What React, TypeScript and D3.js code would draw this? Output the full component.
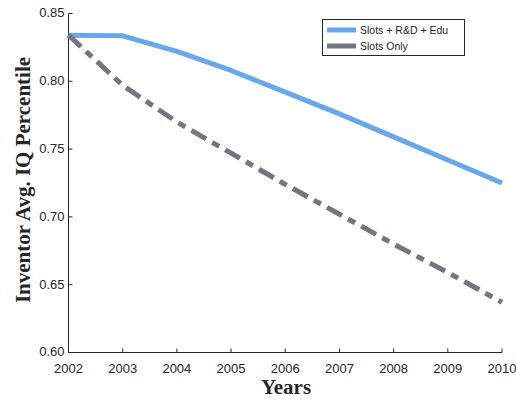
import React from "react";
import * as d3 from "d3";

const years = [2002, 2003, 2004, 2005, 2006, 2007, 2008, 2009, 2010];
const slotsRdEdu = [0.834, 0.8335, 0.822, 0.808, 0.792, 0.776, 0.759, 0.742, 0.725];
const slotsOnly = [0.834, 0.797, 0.770, 0.747, 0.724, 0.702, 0.680, 0.659, 0.637];
const yTicks = [0.6, 0.65, 0.7, 0.75, 0.8, 0.85];
const seriesNames = ["Slots + R&D + Edu", "Slots Only"];
const colors = ["#68a8ea", "#737682"];

export default function App() {
  const W = 516, H = 400;
  const x = d3.scaleLinear().domain([2002, 2010]).range([68.5, 502]);
  const y = d3.scaleLinear().domain([0.6, 0.85]).range([352.5, 13.5]);
  const line = d3.line<number>().x((_, i) => x(years[i])).y((d) => y(d));
  const tickFont = "'Liberation Sans', Arial, sans-serif";
  const serif = "'Liberation Serif', 'Times New Roman', serif";
  return (
    <svg width={W} height={H} style={{ position: "absolute", left: 0, top: 0 }}>
      <rect width={W} height={H} fill="#fff" />
      {/* axes */}
      <line x1={x(2002)} x2={x(2002)} y1={y(0.85)} y2={y(0.6)} stroke="#262626" strokeWidth={1} />
      <line x1={x(2002)} x2={x(2010)} y1={y(0.6)} y2={y(0.6)} stroke="#262626" strokeWidth={1} />
      {yTicks.map((t) => (
        <g key={t}>
          <line x1={x(2002)} x2={x(2002) + 4} y1={y(t)} y2={y(t)} stroke="#262626" />
          <text x={x(2002) - 4} y={y(t)} dy="0.3em" textAnchor="end" fontFamily={tickFont} fontSize={13} fill="#262626">
            {t.toFixed(2)}
          </text>
        </g>
      ))}
      {years.map((yr) => (
        <g key={yr}>
          <line x1={x(yr)} x2={x(yr)} y1={y(0.6)} y2={y(0.6) - 4} stroke="#262626" />
          <text x={x(yr)} y={y(0.6) + 20} textAnchor="middle" fontFamily={tickFont} fontSize={13} fill="#262626">
            {yr}
          </text>
        </g>
      ))}
      {/* lines */}
      <path d={line(slotsRdEdu) || ""} fill="none" stroke={colors[0]} strokeWidth={5} strokeLinejoin="round" />
      <path d={line(slotsOnly) || ""} fill="none" stroke={colors[1]} strokeWidth={5} strokeDasharray="17,7,8,7" />
      {/* labels */}
      <text x={286} y={394} textAnchor="middle" fontFamily={serif} fontWeight="bold" fontSize={21} fill="#262626">
        Years
      </text>
      <text transform="translate(30,180) rotate(-90)" textAnchor="middle" fontFamily={serif} fontWeight="bold" fontSize={21} fill="#262626">
        Inventor Avg. IQ Percentile
      </text>
      {/* legend */}
      <rect x={322.5} y={19.5} width={142} height={36} fill="#fff" stroke="#262626" strokeWidth={1} />
      {seriesNames.map((n, i) => (
        <g key={n}>
          <line x1={327} x2={356} y1={30 + i * 16} y2={30 + i * 16} stroke={colors[i]} strokeWidth={5} />
          <text x={360} y={30 + i * 16} dy="0.35em" fontFamily={tickFont} fontSize={10.5} fill="#262626">
            {n}
          </text>
        </g>
      ))}
    </svg>
  );
}
